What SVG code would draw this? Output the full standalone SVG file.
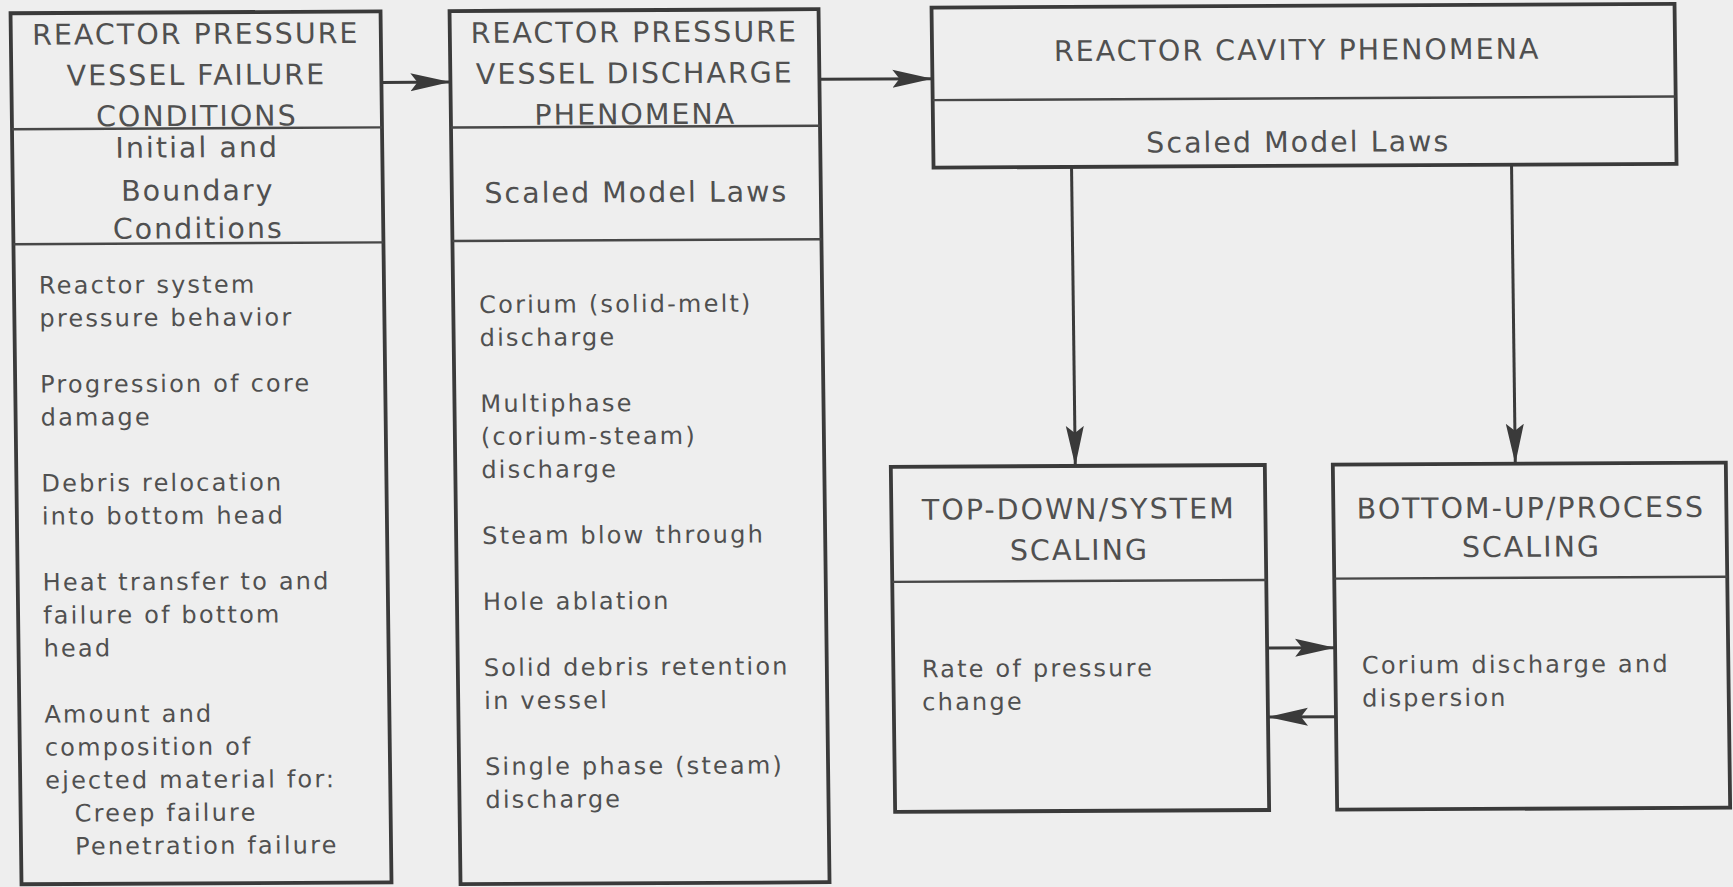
<svg xmlns="http://www.w3.org/2000/svg" width="1733" height="887" viewBox="0 0 1733 887">
<style>
.box{fill:none;stroke:#3a3a3a;stroke-width:3.8}
.div{stroke:#474747;stroke-width:2.4}
.con{stroke:#3a3a3a;stroke-width:3;fill:none}
.h{font-family:"DejaVu Sans",sans-serif;font-size:28.5px;letter-spacing:2px;fill:#505050;text-anchor:middle}
.b{font-family:"DejaVu Sans",sans-serif;font-size:24px;letter-spacing:2.2px;fill:#505050}
</style>
<defs>
<marker id="ah" viewBox="0 0 40 20" refX="40" refY="10" markerWidth="40" markerHeight="20" markerUnits="userSpaceOnUse" orient="auto">
<path d="M0,1 L40,10 L0,19 L7,10 Z" fill="#3a3a3a"/>
</marker>
</defs>
<rect x="0" y="0" width="1733" height="887" fill="#eeeeee"/>
<g transform="matrix(1,-0.005,0.0126,1,-5.58,4.33)">
<g id="connectors">
<line class="con" x1="386" y1="80" x2="455" y2="80" marker-end="url(#ah)"/>
<line class="con" x1="824" y1="79" x2="937" y2="79" marker-end="url(#ah)"/>
<line class="con" x1="1075" y1="168" x2="1075" y2="467" marker-end="url(#ah)"/>
<line class="con" x1="1515" y1="168" x2="1515" y2="467" marker-end="url(#ah)"/>
<line class="con" x1="1264.5" y1="650" x2="1332.5" y2="650" marker-end="url(#ah)"/>
<line class="con" x1="1332.5" y1="719" x2="1264.5" y2="719" marker-end="url(#ah)"/>
</g>
<g id="rpv-failure">
<rect class="box" x="16" y="9" width="370" height="871"/>
<line class="div" x1="16" y1="125" x2="386" y2="125"/>
<line class="div" x1="16" y1="240" x2="386" y2="240"/>
<text class="h" x="201" y="40.5">REACTOR PRESSURE</text>
<text class="h" x="201" y="81.5">VESSEL FAILURE</text>
<text class="h" x="201" y="122.5">CONDITIONS</text>
<text class="h" x="201" y="154">Initial and</text>
<text class="h" x="201" y="197">Boundary</text>
<text class="h" x="201" y="235">Conditions</text>
<text class="b" x="41" y="289.5">Reactor system</text>
<text class="b" x="41" y="322.5">pressure behavior</text>
<text class="b" x="41" y="388.5">Progression of core</text>
<text class="b" x="41" y="421.5">damage</text>
<text class="b" x="41" y="487.5">Debris relocation</text>
<text class="b" x="41" y="520.5">into bottom head</text>
<text class="b" x="41" y="586.5">Heat transfer to and</text>
<text class="b" x="41" y="619.5">failure of bottom</text>
<text class="b" x="41" y="652.5">head</text>
<text class="b" x="41" y="718.5">Amount and</text>
<text class="b" x="41" y="751.5">composition of</text>
<text class="b" x="41" y="784.5">ejected material for:</text>
<text class="b" x="70" y="817.5">Creep failure</text>
<text class="b" x="70" y="850.5">Penetration failure</text>
</g>
<g id="rpv-discharge">
<rect class="box" x="455" y="9" width="369" height="873"/>
<line class="div" x1="455" y1="125.5" x2="824" y2="125.5"/>
<line class="div" x1="455" y1="239" x2="824" y2="239"/>
<text class="h" x="639.5" y="41">REACTOR PRESSURE</text>
<text class="h" x="639.5" y="82">VESSEL DISCHARGE</text>
<text class="h" x="639.5" y="123">PHENOMENA</text>
<text class="h" x="639.5" y="201">Scaled Model Laws</text>
<text class="b" x="481" y="311">Corium (solid-melt)</text>
<text class="b" x="481" y="344">discharge</text>
<text class="b" x="481" y="410">Multiphase</text>
<text class="b" x="481" y="443">(corium-steam)</text>
<text class="b" x="481" y="476">discharge</text>
<text class="b" x="481" y="542">Steam blow through</text>
<text class="b" x="481" y="608">Hole ablation</text>
<text class="b" x="481" y="674">Solid debris retention</text>
<text class="b" x="481" y="707">in vessel</text>
<text class="b" x="481" y="773">Single phase (steam)</text>
<text class="b" x="481" y="806">discharge</text>
</g>
<g id="cavity">
<rect class="box" x="937" y="8" width="743" height="160"/>
<line class="div" x1="937" y1="100.5" x2="1680" y2="100.5"/>
<text class="h" x="1302" y="62">REACTOR CAVITY PHENOMENA</text>
<text class="h" x="1302" y="154">Scaled Model Laws</text>
</g>
<g id="top-down">
<rect class="box" x="890.5" y="467" width="374" height="345"/>
<line class="div" x1="890.5" y1="582" x2="1264.5" y2="582"/>
<text class="h" x="1078" y="520">TOP-DOWN/SYSTEM</text>
<text class="h" x="1078" y="561">SCALING</text>
<text class="b" x="919" y="677.5">Rate of pressure</text>
<text class="b" x="919" y="710.5">change</text>
</g>
<g id="bottom-up">
<rect class="box" x="1332.5" y="467" width="393" height="345"/>
<line class="div" x1="1332.5" y1="581" x2="1725.5" y2="581"/>
<text class="h" x="1530" y="521">BOTTOM-UP/PROCESS</text>
<text class="h" x="1530" y="560">SCALING</text>
<text class="b" x="1359" y="676">Corium discharge and</text>
<text class="b" x="1359" y="709">dispersion</text>
</g>
</g>
</svg>
